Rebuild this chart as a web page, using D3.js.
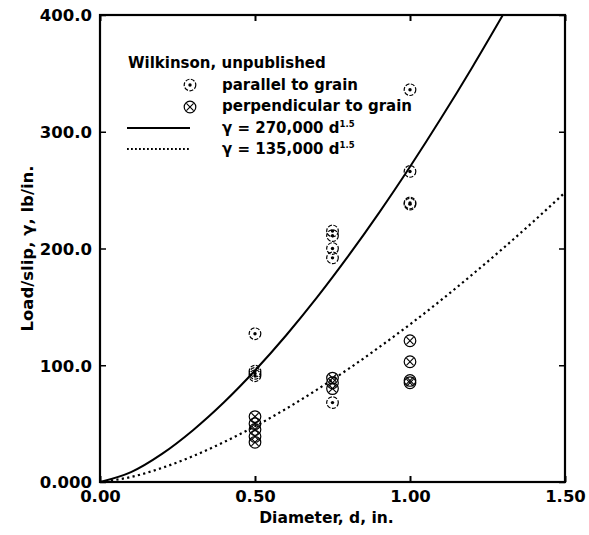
<!DOCTYPE html>
<html>
<head>
<meta charset="utf-8">
<script src="https://cdn.jsdelivr.net/npm/d3@7"></script>
<style>
  body { margin: 0; background: #fff; }
  text { font-family: "DejaVu Sans", sans-serif; font-weight: bold; fill: #000; }
</style>
</head>
<body>
<script>
// values
var xTicks = [0, 0.5, 1.0, 1.5];
var xTickLabels = ["0.00", "0.50", "1.00", "1.50"];
var yTicks = [0, 100, 200, 300, 400];
var yTickLabels = ["0.000", "100.0", "200.0", "300.0", "400.0"];

var parD = [0.5, 0.5, 0.5, 0.5, 0.75, 0.75, 0.75, 0.75, 0.75, 1.0, 1.0, 1.0, 1.0];
var parY = [127, 95, 93, 91, 215, 211, 200, 192, 68, 336, 266, 239, 238];
var perpD = [0.5, 0.5, 0.5, 0.5, 0.5, 0.75, 0.75, 0.75, 1.0, 1.0, 1.0, 1.0];
var perpY = [56, 50, 45, 39, 34, 89, 85, 80, 121, 103, 87, 85];

// gamma = 270,000 d^1.5 and 135,000 d^1.5 (in 10^3 lb/in)
var solidD = [0, 0.1, 0.2, 0.3, 0.4, 0.5, 0.6, 0.7, 0.8, 0.9, 1.0, 1.1, 1.2, 1.305];
var solidY = [0, 8.5, 24.1, 44.4, 68.3, 95.5, 125.5, 158.1, 193.2, 230.5, 270, 311.5, 354.9, 402.5];
var dotD = [0, 0.1, 0.2, 0.3, 0.4, 0.5, 0.6, 0.7, 0.8, 0.9, 1.0, 1.1, 1.2, 1.3, 1.4, 1.5];
var dotY = [0, 4.3, 12.1, 22.2, 34.2, 47.7, 62.7, 79.1, 96.6, 115.3, 135, 155.7, 177.5, 200.1, 223.6, 248.0];

function plot_it() {
  var width = 589, height = 535;
  var left = 100, top = 15, right = 565, bottom = 482;

  var svg = d3.select('body').append('svg').attr('width', width).attr('height', height);

  var x = d3.scaleLinear().domain([0, 1.5]).range([left, right]);
  var y = d3.scaleLinear().domain([0, 400]).range([bottom, top]);

  // clip for the curves
  svg.append('clipPath').attr('id', 'clip')
    .append('rect').attr('x', left).attr('y', top).attr('width', right - left).attr('height', bottom - top);

  // frame
  svg.append('rect')
    .attr('x', left).attr('y', top).attr('width', right - left).attr('height', bottom - top)
    .attr('fill', 'none').attr('stroke', '#000').attr('stroke-width', 2.2);

  // ticks (inward, mirrored)
  svg.append('g').attr('transform', 'translate(0,' + bottom + ')')
    .call(d3.axisBottom(x).tickValues(xTicks).tickSizeInner(-6).tickSizeOuter(0).tickFormat(function (d, i) { return xTickLabels[i]; }))
    .call(function (g) {
      g.select('.domain').remove();
      g.selectAll('line').attr('stroke-width', 2);
      g.selectAll('text').attr('font-size', 16.5).attr('dy', null).attr('y', 20);
    });
  svg.append('g').attr('transform', 'translate(0,' + top + ')')
    .call(d3.axisTop(x).tickValues(xTicks).tickSizeInner(-6).tickSizeOuter(0).tickFormat(''))
    .call(function (g) { g.select('.domain').remove(); g.selectAll('line').attr('stroke-width', 2); });

  svg.append('g').attr('transform', 'translate(' + left + ',0)')
    .call(d3.axisLeft(y).tickValues(yTicks).tickSizeInner(-6).tickSizeOuter(0).tickFormat(function (d, i) { return yTickLabels[i]; }))
    .call(function (g) {
      g.select('.domain').remove();
      g.selectAll('line').attr('stroke-width', 1.5);
      g.selectAll('text').attr('font-size', 16.5).attr('x', -8).attr('dy', '0.35em');
    });
  svg.append('g').attr('transform', 'translate(' + right + ',0)')
    .call(d3.axisRight(y).tickValues(yTicks).tickSizeInner(-6).tickSizeOuter(0).tickFormat(''))
    .call(function (g) { g.select('.domain').remove(); g.selectAll('line').attr('stroke-width', 1.5); });

  // axis titles
  svg.append('text')
    .attr('x', (left + right) / 2 - 6).attr('y', 523)
    .attr('text-anchor', 'middle').attr('font-size', 15.5)
    .text('Diameter, d, in.');

  svg.append('text')
    .attr('transform', 'translate(33,' + (top + bottom) / 2 + ') rotate(-90)')
    .attr('text-anchor', 'middle').attr('font-size', 16.5)
    .text('Load/slip, \u03b3, lb/in.');

  // curves
  var line = d3.line()
    .x(function (d) { return x(d[0]); })
    .y(function (d) { return y(d[1]); })
    .curve(d3.curveMonotoneX);

  svg.append('path')
    .datum(d3.zip(solidD, solidY))
    .attr('clip-path', 'url(#clip)')
    .attr('d', line)
    .attr('fill', 'none').attr('stroke', '#000').attr('stroke-width', 2);

  svg.append('path')
    .datum(d3.zip(dotD, dotY))
    .attr('clip-path', 'url(#clip)')
    .attr('d', line)
    .attr('fill', 'none').attr('stroke', '#000').attr('stroke-width', 2.2)
    .attr('stroke-dasharray', '2.2,3.3');

  // markers
  var r = 5.8;
  function parallelMark(g) {
    g.append('circle').attr('r', r).attr('fill', 'none').attr('stroke', '#000').attr('stroke-width', 1.2)
      .attr('stroke-dasharray', '4,1.5');
    g.append('circle').attr('r', 1.7).attr('fill', '#000');
  }
  function perpMark(g) {
    g.append('circle').attr('r', r).attr('fill', 'none').attr('stroke', '#000').attr('stroke-width', 1.2);
    var k = r * 0.62;
    g.append('path').attr('d', 'M' + (-k) + ',' + (-k) + 'L' + k + ',' + k + 'M' + k + ',' + (-k) + 'L' + (-k) + ',' + k)
      .attr('stroke', '#000').attr('stroke-width', 1.1);
  }

  svg.selectAll('.par').data(d3.zip(parD, parY)).enter().append('g')
    .attr('class', 'par')
    .attr('transform', function (d) { return 'translate(' + x(d[0]) + ',' + y(d[1]) + ')'; })
    .each(function () { parallelMark(d3.select(this)); });

  svg.selectAll('.perp').data(d3.zip(perpD, perpY)).enter().append('g')
    .attr('class', 'perp')
    .attr('transform', function (d) { return 'translate(' + x(d[0]) + ',' + y(d[1]) + ')'; })
    .each(function () { perpMark(d3.select(this)); });

  // legend
  var lg = svg.append('g');
  lg.append('text').attr('x', 128).attr('y', 68).attr('font-size', 15).text('Wilkinson, unpublished');
  parallelMark(lg.append('g').attr('transform', 'translate(190,85)'));
  lg.append('text').attr('x', 222).attr('y', 90).attr('font-size', 15).text('parallel to grain');
  perpMark(lg.append('g').attr('transform', 'translate(190,107)'));
  lg.append('text').attr('x', 222).attr('y', 111).attr('font-size', 15).text('perpendicular to grain');

  lg.append('line').attr('x1', 127).attr('x2', 190).attr('y1', 128).attr('y2', 128)
    .attr('stroke', '#000').attr('stroke-width', 2);
  var t1 = lg.append('text').attr('x', 222).attr('y', 133).attr('font-size', 15);
  t1.append('tspan').text('\u03b3 = 270,000 d');
  t1.append('tspan').attr('dy', -6).attr('font-size', 8.5).text('1.5');

  lg.append('line').attr('x1', 127).attr('x2', 190).attr('y1', 149).attr('y2', 149)
    .attr('stroke', '#000').attr('stroke-width', 1.8).attr('stroke-dasharray', '1.8,2.2');
  var t2 = lg.append('text').attr('x', 222).attr('y', 154).attr('font-size', 15);
  t2.append('tspan').text('\u03b3 = 135,000 d');
  t2.append('tspan').attr('dy', -6).attr('font-size', 8.5).text('1.5');
}

plot_it();
</script>
</body>
</html>
